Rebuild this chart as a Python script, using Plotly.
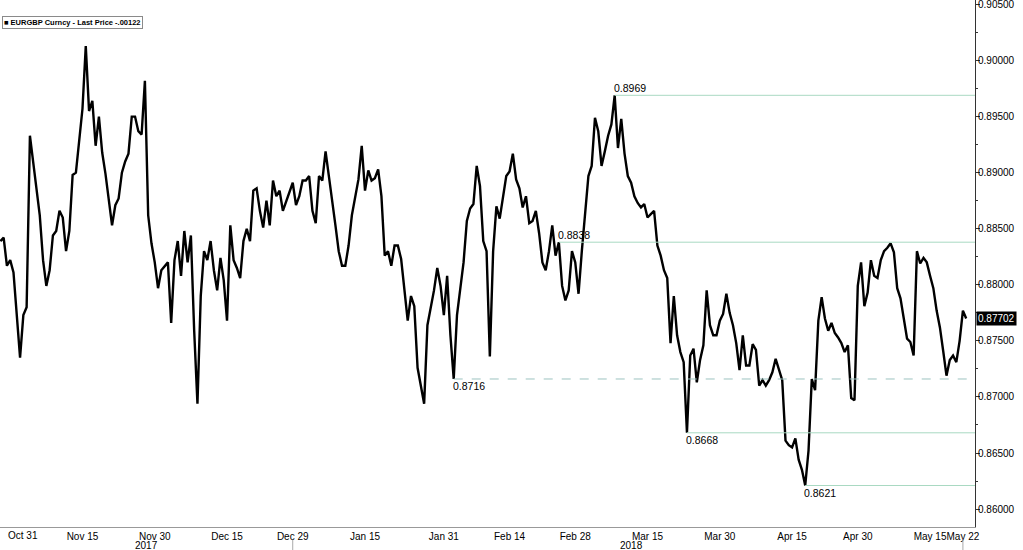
import plotly.graph_objects as go
import pandas as pd

# EURGBP Curncy - last price, sampled twice per trading session (00:00 / 12:00)
eurgbp_last = [
    0.8839, 0.8842, 0.8817, 0.8822, 0.8811, 0.8773, 0.8735, 0.8773, 0.8780, 0.8933,
    0.8910, 0.8885, 0.8862, 0.8822, 0.8799, 0.8813, 0.8844, 0.8848, 0.8866, 0.8860,
    0.8830, 0.8848, 0.8898, 0.8900, 0.8928, 0.8957, 0.9013, 0.8955, 0.8964, 0.8924,
    0.8950, 0.8918, 0.8899, 0.8875, 0.8853, 0.8871, 0.8877, 0.8900, 0.8910, 0.8917,
    0.8950, 0.8950, 0.8937, 0.8934, 0.8982, 0.8862, 0.8837, 0.8820, 0.8797,
    0.8813, 0.8817, 0.8820, 0.8766, 0.8822, 0.8839, 0.8808, 0.8848, 0.8820, 0.8844,
    0.8759, 0.8694, 0.8790, 0.8830, 0.8822, 0.8839, 0.8813, 0.8795, 0.8824, 0.8804,
    0.8768, 0.8853, 0.8822, 0.8815, 0.8806, 0.8839, 0.8850, 0.8839, 0.8884, 0.8886,
    0.8866, 0.8851, 0.8875, 0.8853, 0.8893, 0.8879, 0.8884, 0.8866, 0.8875, 0.8884,
    0.8891, 0.8871, 0.8879, 0.8893, 0.8893, 0.8897, 0.8866, 0.8855, 0.8897, 0.8893,
    0.8919, 0.8897, 0.8877, 0.8853, 0.8830, 0.8817, 0.8817, 0.8835, 0.8862, 0.8879,
    0.8894, 0.8924, 0.8884, 0.8902, 0.8893, 0.8895, 0.8903, 0.8879, 0.8826, 0.8830,
    0.8817, 0.8835, 0.8835, 0.8823, 0.8794, 0.8768, 0.8790, 0.8781, 0.8726, 0.8710,
    0.8694, 0.8764, 0.8780, 0.8795, 0.8815, 0.8799, 0.8773, 0.8808, 0.8755,
    0.8716, 0.8773, 0.8795, 0.8820, 0.8857, 0.8868, 0.8872, 0.8906, 0.8888, 0.8839,
    0.8830, 0.8736, 0.8830, 0.8870, 0.8859, 0.8879, 0.8897, 0.8901, 0.8917, 0.8894,
    0.8886, 0.8869, 0.8879, 0.8855, 0.8857, 0.8866, 0.8846, 0.8820, 0.8813, 0.8830,
    0.8853, 0.8826, 0.8838, 0.8799, 0.8786, 0.8795, 0.8830, 0.8820, 0.8792, 0.8830,
    0.8866, 0.8897, 0.8906, 0.8949, 0.8937, 0.8906, 0.8919, 0.8933, 0.8943, 0.8969,
    0.8922, 0.8948, 0.8917, 0.8897, 0.8891, 0.8879, 0.8873, 0.8869, 0.8872, 0.8860,
    0.8863, 0.8866, 0.8835, 0.8826, 0.8813, 0.8806, 0.8748, 0.8790, 0.8755, 0.8740,
    0.8731, 0.8668, 0.8737, 0.8743, 0.8713, 0.8733, 0.8746, 0.8795, 0.8764, 0.8755,
    0.8755, 0.8768, 0.8774, 0.8792, 0.8775, 0.8764, 0.8748, 0.8724, 0.8755,
    0.8728, 0.8728, 0.8747, 0.8742, 0.8710, 0.8715, 0.8710, 0.8715, 0.8722, 0.8734,
    0.8724, 0.8715, 0.8661, 0.8657, 0.8655, 0.8663, 0.8644, 0.8635, 0.8621, 0.8652,
    0.8716, 0.8706, 0.8768, 0.8789, 0.8770, 0.8759, 0.8766, 0.8757, 0.8753, 0.8748,
    0.8740, 0.8746, 0.8699, 0.8697, 0.8799, 0.8820, 0.8781, 0.8793, 0.8822, 0.8808,
    0.8806, 0.8822, 0.8830, 0.8833, 0.8837, 0.8829, 0.8797, 0.8788, 0.8770, 0.8752,
    0.8749, 0.8737, 0.8830, 0.8819, 0.8824, 0.8820, 0.8808, 0.8797, 0.8777, 0.8762,
    0.8741, 0.8719, 0.8733, 0.8737, 0.8731, 0.8750, 0.8777, 0.8770,
]
first_session = "2017-10-27"
last_price = 0.87702
legend_text = "\u25A0 EURGBP Curncy - Last Price -.00122"

x_range = ["2017-10-27 10:43", "2018-05-23 20:10"]
y_range = [0.8584, 0.9054]

tick_dates = ["2017-11-15", "2017-11-30", "2017-12-15", "2017-12-29", "2018-01-15",
              "2018-01-31", "2018-02-14", "2018-02-28", "2018-03-15", "2018-03-30",
              "2018-04-15", "2018-04-30", "2018-05-15", "2018-05-22"]
tick_text = ["Nov 15", "Nov 30", "Dec 15", "Dec 29", "Jan 15", "Jan 31", "Feb 14",
             "Feb 28", "Mar 15", "Mar 30", "Apr 15", "Apr 30", "May 15", "May 22"]
first_tick = ("2017-10-31", "Oct 31")
year_labels = [("2017-11-28 18:00", "2017"), ("2018-03-12 12:00", "2018")]
year_separators = ["2017-12-29", "2018-05-22"]

pivot_levels = [0.8969, 0.8838, 0.8716, 0.8668, 0.8621]
pivot_dates = ["2018-03-08 00:00", "2018-02-23 12:00", "2018-02-01 12:00",
               "2018-03-23 00:00", "2018-04-18 00:00"]
pivot_label_above = [True, True, False, False, False]
pivot_dashed = [False, False, True, False, False]

# ---- build session timestamps (two samples per weekday) ----
bdays = pd.bdate_range(first_session, periods=200)
stamps = []
for d in bdays:
    stamps.append(d)
    stamps.append(d + pd.Timedelta(hours=12))
times = stamps[1:1 + len(eurgbp_last)]


def to_session(d):
    ts = pd.Timestamp(d)
    while ts.weekday() >= 5:
        ts += pd.Timedelta(days=1)
    return ts


tickvals = [to_session(d) for d in tick_dates]

FONT = "Liberation Sans"
NARROW = "Liberation Sans Narrow, Liberation Sans"
LEVEL_GREEN = "#a9d9c2"

fig = go.Figure()
fig.add_trace(go.Scatter(x=times, y=eurgbp_last, mode="lines",
                         line=dict(color="black", width=2.4),
                         showlegend=False, hoverinfo="skip"))

shapes = []
annotations = []
for lvl, d, above, dashed in zip(pivot_levels, pivot_dates, pivot_label_above, pivot_dashed):
    shapes.append(dict(type="line", xref="x", yref="y", x0=d, x1=x_range[1], y0=lvl, y1=lvl,
                       line=dict(color="#9cc3c0" if dashed else LEVEL_GREEN, width=1,
                                 dash="dash" if dashed else "solid")))
    annotations.append(dict(x=d, y=lvl, xref="x", yref="y", text=f"{lvl:.4f}",
                            showarrow=False, xanchor="left",
                            yanchor="bottom" if above else "top", xshift=-3,
                            yshift=-1 if above else 1,
                            font=dict(family=FONT, size=10.5, color="black")))

for d in year_separators:
    shapes.append(dict(type="line", xref="x", yref="paper", x0=d, x1=d, y0=-0.024, y1=-0.05,
                       line=dict(color="#aaaaaa", width=1)))

for d, t in year_labels:
    annotations.append(dict(x=d, y=0, xref="x", yref="paper", text=t, showarrow=False,
                            xanchor="center", yanchor="top", yshift=-11,
                            font=dict(family=FONT, size=10, color="black")))

annotations.append(dict(x=first_tick[0], y=0, xref="x", yref="paper", text=first_tick[1],
                        showarrow=False, xanchor="left", yanchor="top", xshift=-4, yshift=-1,
                        font=dict(family=FONT, size=10, color="black")))

annotations.append(dict(x=0, y=1, xref="paper", yref="paper", text=legend_text,
                        showarrow=False, xanchor="left", yanchor="top", xshift=2, yshift=-16,
                        bgcolor="white", bordercolor="#8a8a8a", borderwidth=1, borderpad=1,
                        font=dict(family=NARROW, size=7.5, color="black", weight="bold")))

annotations.append(dict(x=1, y=last_price, xref="paper", yref="y", text=f"{last_price:.5f}",
                        showarrow=False, xanchor="left", yanchor="middle", xshift=1,
                        bgcolor="black", borderpad=1,
                        font=dict(family=FONT, size=10, color="white")))

fig.update_layout(
    width=1023, height=550,
    margin=dict(l=0, r=48, t=0, b=23, pad=0, autoexpand=False),
    paper_bgcolor="white", plot_bgcolor="white",
    shapes=shapes, annotations=annotations,
    xaxis=dict(type="date", range=x_range,
               rangebreaks=[dict(bounds=["sat", "mon"])],
               tickvals=tickvals, ticktext=tick_text, tickangle=0,
               ticks="", showline=True, linecolor="#999999", linewidth=1,
               showgrid=False, zeroline=False, ticklabeloverflow="allow",
               automargin=False,
               tickfont=dict(family=FONT, size=10, color="black")),
    yaxis=dict(side="right", range=y_range, tick0=0.86, dtick=0.005, tickformat=".5f",
               ticks="outside", ticklen=4, tickcolor="#333333",
               showline=True, linecolor="#333333", linewidth=1,
               showgrid=False, zeroline=False, automargin=False,
               ticklabelstandoff=-4, ticklabeloverflow="allow",
               minor=dict(dtick=0.0025, ticks="outside", ticklen=2, tickcolor="#333333"),
               tickfont=dict(family=FONT, size=10, color="black")),
)

fig.write_html("out.html", config={"displayModeBar": False},
               post_script="document.body.style.margin='0';document.body.style.padding='0';")
